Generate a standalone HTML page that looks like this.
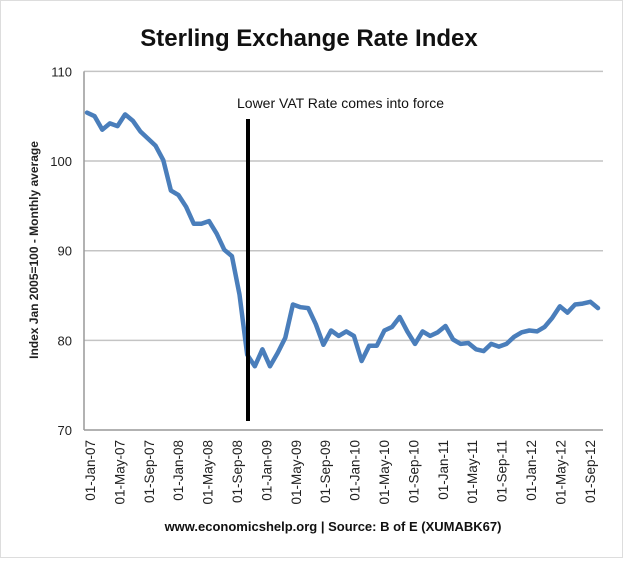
<!DOCTYPE html>
<html><head><meta charset="utf-8"><style>
html,body{margin:0;padding:0;background:#fff}
svg text{font-family:"Liberation Sans",sans-serif}
</style></head><body>
<svg id="chart" width="624" height="559" viewBox="0 0 624 559" xmlns="http://www.w3.org/2000/svg">
<rect x="0.5" y="0.5" width="622" height="557" fill="#fff" stroke="#ddd"/>
<text x="309" y="46" text-anchor="middle" font-size="24" font-weight="bold" fill="#111">Sterling Exchange Rate Index</text>
<g id="grid"></g>
<g id="yt"></g>
<g id="xt"></g>
<text transform="translate(38,250) rotate(-90)" text-anchor="middle" font-size="12" font-weight="bold" fill="#222">Index Jan 2005=100 - Monthly average</text>
<path id="series" fill="none" stroke="#4a7ebb" stroke-width="4.5" stroke-linejoin="round" stroke-linecap="round"/>
<line x1="248" y1="119" x2="248" y2="421" stroke="#000" stroke-width="4"/>
<text x="237" y="108" font-size="14" fill="#111">Lower VAT Rate comes into force</text>
<text x="333" y="531" text-anchor="middle" font-size="13" font-weight="bold" fill="#111">www.economicshelp.org | Source: B of E (XUMABK67)</text>
</svg>
<script>
const yTicks=[70,80,90,100,110];
const xLabels=["01-Jan-07","01-May-07","01-Sep-07","01-Jan-08","01-May-08","01-Sep-08","01-Jan-09","01-May-09","01-Sep-09","01-Jan-10","01-May-10","01-Sep-10","01-Jan-11","01-May-11","01-Sep-11","01-Jan-12","01-May-12","01-Sep-12"];
const values=[105.4,105.0,103.5,104.2,103.9,105.2,104.5,103.3,102.5,101.7,100.1,96.7,96.2,94.9,93.0,93.0,93.3,91.9,90.1,89.4,85.1,78.4,77.1,79.0,77.1,78.6,80.3,84.0,83.7,83.6,81.8,79.5,81.1,80.5,81.0,80.5,77.7,79.4,79.4,81.1,81.5,82.6,81.0,79.6,81.0,80.5,80.9,81.6,80.1,79.6,79.7,79.0,78.8,79.6,79.3,79.6,80.4,80.9,81.1,81.0,81.5,82.5,83.8,83.1,84.0,84.1,84.3,83.6];
const NS="http://www.w3.org/2000/svg";
const X0=84,X1=603,Y0=430,Y1=71.4;
const yScale=v=>Y0-(v-70)/40*(Y0-Y1);
const px0=87,px1=598;
const xScale=i=>px0+i*(px1-px0)/(values.length-1);
const lblScale=i=>90+i*29.4;
const grid=document.getElementById('grid'),yt=document.getElementById('yt'),xt=document.getElementById('xt');
yTicks.forEach(t=>{
 const l=document.createElementNS(NS,'line');
 l.setAttribute('x1',X0);l.setAttribute('x2',X1);l.setAttribute('y1',yScale(t));l.setAttribute('y2',yScale(t));
 l.setAttribute('stroke',t===70?'#999':'#c4c4c4');l.setAttribute('stroke-width','1.5');
 
 
 grid.appendChild(l);
 const tx=document.createElementNS(NS,'text');
 tx.setAttribute('x',72);tx.setAttribute('y',yScale(t)+5);tx.setAttribute('text-anchor','end');tx.setAttribute('font-size','13');tx.setAttribute('fill','#222');
 tx.textContent=t;
 
 
 yt.appendChild(tx);
});
const ax=document.createElementNS(NS,'line');
ax.setAttribute('x1',X0);ax.setAttribute('x2',X0);ax.setAttribute('y1',Y1);ax.setAttribute('y2',Y0);ax.setAttribute('stroke','#999');ax.setAttribute('stroke-width','1.5');


grid.appendChild(ax);
xLabels.forEach((s,i)=>{
 const x=lblScale(i);
 const tx=document.createElementNS(NS,'text');
 tx.setAttribute('transform','translate('+(x+5)+',440) rotate(-90)');
 tx.setAttribute('text-anchor','end');tx.setAttribute('font-size','13.5');tx.setAttribute('fill','#222');
 tx.textContent=s;
 
 
 xt.appendChild(tx);
});
document.getElementById('series').setAttribute('d',values.map((v,i)=>(i?'L':'M')+xScale(i).toFixed(1)+' '+yScale(v).toFixed(1)).join(' '));
</script>
</body></html>
